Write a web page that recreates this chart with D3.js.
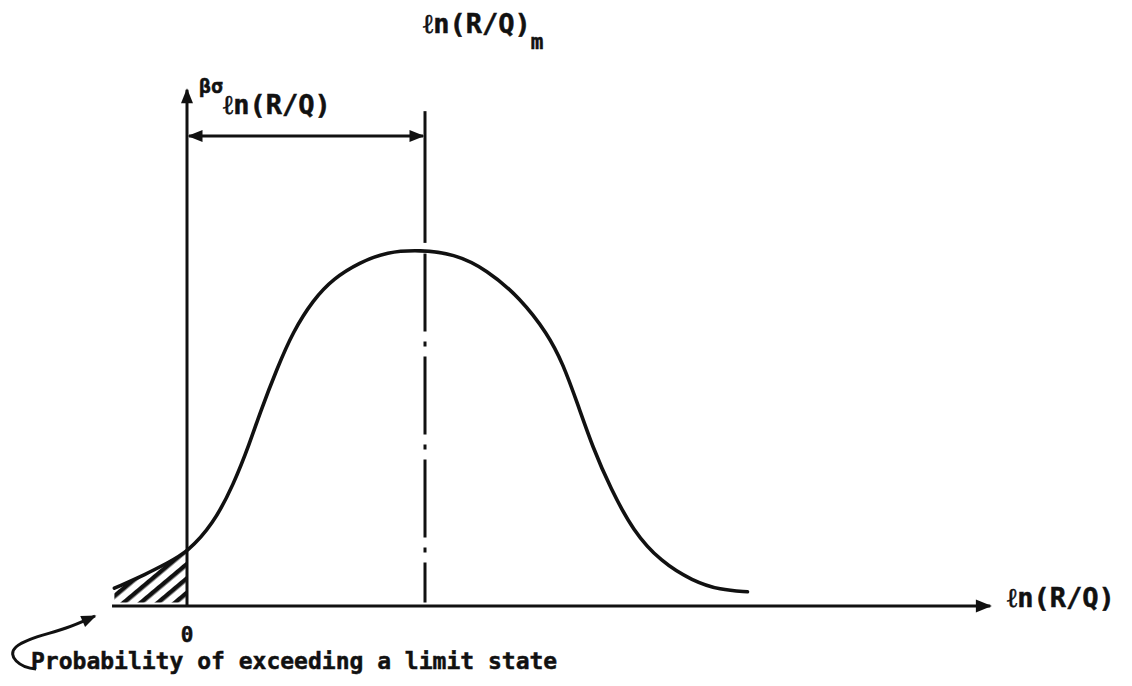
<!DOCTYPE html>
<html>
<head>
<meta charset="utf-8">
<script src="https://cdn.jsdelivr.net/npm/d3@7"></script>
<style>
  body { margin: 0; background: #fff; }
  svg text { font-family: "DejaVu Sans Mono", monospace; font-weight: bold; fill: #111; stroke: #111; stroke-width: 0.5; }
</style>
</head>
<body>
<svg id="chart" width="1132" height="686"></svg>
<script>
// density curve (x = ln(R/Q), y = relative density)
const curveX = [-0.61, -0.34, -0.17, 0, 0.22, 0.39, 0.53, 0.61, 0.76, 0.89, 1.06, 1.23, 1.45, 1.68, 1.96,
  2.24, 2.52, 2.80, 3.03, 3.16, 3.28, 3.41, 3.56, 3.75, 3.98, 4.25, 4.48, 4.71];
const curveY = [0.05, 0.09, 0.12, 0.15, 0.23, 0.34, 0.46, 0.54, 0.67, 0.77, 0.86, 0.92, 0.965, 0.995, 1.0,
  0.99, 0.945, 0.865, 0.765, 0.68, 0.57, 0.445, 0.33, 0.21, 0.125, 0.07, 0.045, 0.04];
const meanX = 2.0;
const xAxisExtent = [-0.63, 6.75];
const yAxisTop = 1.45;
const dimY = 1.32;      // level of the beta*sigma dimension arrow
const meanTop = 1.39;

const svg = d3.select('#chart');
const x = d3.scaleLinear().domain([0, meanX]).range([187, 425]);
const y = d3.scaleLinear().domain([0, 1]).range([606, 250]);

const pts = curveX.map((v, i) => [v, curveY[i]]);

const defs = svg.append('defs');
function arrowMarker(id) {
  defs.append('marker')
    .attr('id', id)
    .attr('viewBox', '0 0 10 10')
    .attr('refX', 9).attr('refY', 5)
    .attr('markerWidth', 6).attr('markerHeight', 5)
    .attr('markerUnits', 'strokeWidth')
    .attr('orient', 'auto-start-reverse')
    .append('path').attr('d', 'M0,1 L10,5 L0,9 Z').attr('fill', '#111');
}
arrowMarker('arr');

// hatch pattern
defs.append('pattern')
  .attr('id', 'hatch')
  .attr('patternUnits', 'userSpaceOnUse')
  .attr('width', 11).attr('height', 11)
  .attr('patternTransform', 'rotate(-40)')
  .append('rect').attr('x', 0).attr('y', 0).attr('width', 11).attr('height', 4.5).attr('fill', '#111');

// shaded tail (left of 0)
const tail = pts.filter(p => p[0] <= 0);
const tailArea = d3.area()
  .x(d => x(d[0]))
  .y0(y(0.01))
  .y1(d => y(d[1]))
  .curve(d3.curveMonotoneX);
svg.append('path')
  .datum(tail)
  .attr('d', tailArea)
  .attr('fill', 'url(#hatch)');

// axes
svg.append('line')
  .attr('x1', x(xAxisExtent[0])).attr('x2', x(xAxisExtent[1]))
  .attr('y1', y(0)).attr('y2', y(0))
  .attr('stroke', '#111').attr('stroke-width', 3.2)
  .attr('marker-end', 'url(#arr)');
svg.append('line')
  .attr('x1', x(0)).attr('x2', x(0))
  .attr('y1', y(0)).attr('y2', y(yAxisTop))
  .attr('stroke', '#111').attr('stroke-width', 3)
  .attr('marker-end', 'url(#arr)');

// curve
svg.append('path')
  .datum(pts)
  .attr('d', d3.line().x(d => x(d[0])).y(d => y(d[1])).curve(d3.curveBasis))
  .attr('fill', 'none')
  .attr('stroke', '#111')
  .attr('stroke-width', 3.6)
  .attr('stroke-linecap', 'round');

// mean line: solid above the peak, dash-dot below
svg.append('line')
  .attr('x1', x(meanX)).attr('x2', x(meanX))
  .attr('y1', y(meanTop)).attr('y2', y(1.02))
  .attr('stroke', '#111').attr('stroke-width', 3);
svg.append('line')
  .attr('x1', x(meanX)).attr('x2', x(meanX))
  .attr('y1', y(0.99)).attr('y2', y(0.01))
  .attr('stroke', '#111').attr('stroke-width', 3)
  .attr('stroke-dasharray', '78,10,5,10');

// dimension arrow beta*sigma
svg.append('line')
  .attr('x1', x(0) + 2).attr('x2', x(meanX) - 2)
  .attr('y1', y(dimY)).attr('y2', y(dimY))
  .attr('stroke', '#111').attr('stroke-width', 3)
  .attr('marker-start', 'url(#arr)')
  .attr('marker-end', 'url(#arr)');

// labels
const meanLabel = svg.append('text').attr('x', 423).attr('y', 33).attr('font-size', 27);
meanLabel.append('tspan').text('ℓn(R/Q)');
meanLabel.append('tspan').attr('font-size', 21).attr('dy', 16).text('m');

const bs = svg.append('text').attr('x', 199).attr('y', 93).attr('font-size', 20);
bs.append('tspan').text('βσ');
bs.append('tspan').attr('font-size', 27).attr('dy', 21).text('ℓn(R/Q)');

svg.append('text').attr('x', 1007).attr('y', 607).attr('font-size', 27).text('ℓn(R/Q)');
svg.append('text').attr('x', x(0)).attr('y', 642).attr('font-size', 21).attr('text-anchor', 'middle').text('0');
svg.append('text').attr('x', 31).attr('y', 669).attr('font-size', 23).text('Probability of exceeding a limit state');

// hooked pointer to the shaded tail
svg.append('path')
  .attr('d', 'M36,669 C20,668 6,656 16,647 C26,638 50,634 66,628 C78,624 86,620 95,616')
  .attr('fill', 'none')
  .attr('stroke', '#111').attr('stroke-width', 3)
  .attr('marker-end', 'url(#arr)');
</script>
</body>
</html>
